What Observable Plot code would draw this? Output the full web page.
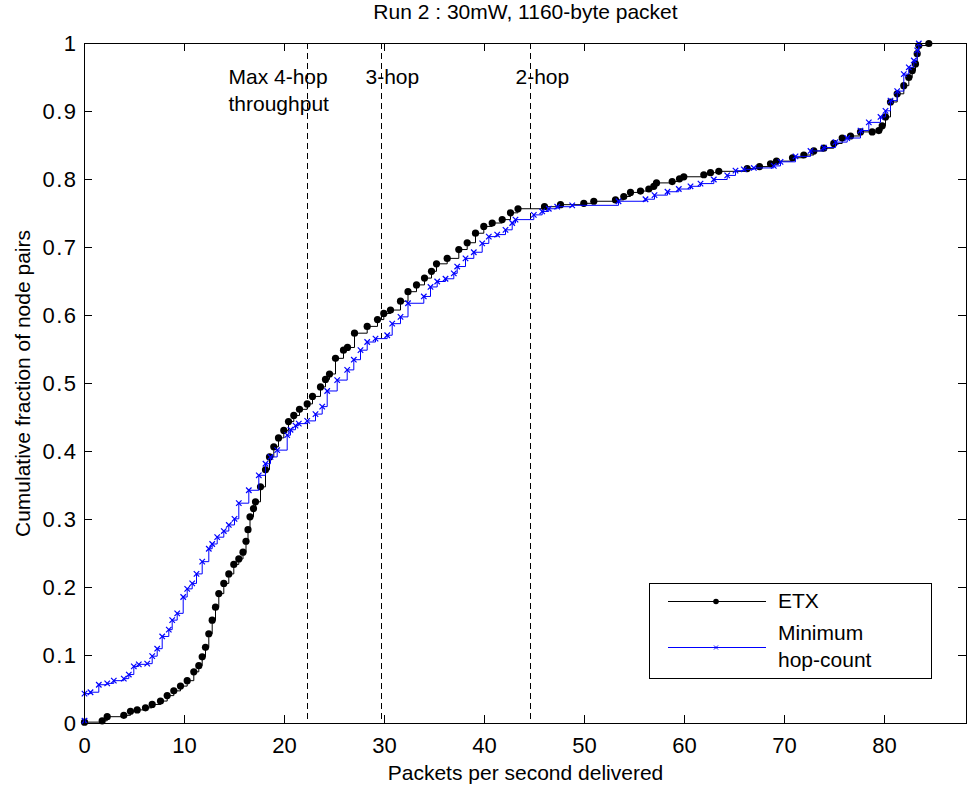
<!DOCTYPE html>
<html><head><meta charset="utf-8">
<script src="https://cdn.jsdelivr.net/npm/d3@7"></script>
<script src="https://cdn.jsdelivr.net/npm/@observablehq/plot@0.6"></script>
<style>body{margin:0;background:#fff} #chart{width:967px;height:785px}</style>
</head><body><div id="chart"></div>
<script>
const etxX = [0, 1.77, 2.27, 3.93, 4.6, 5.27, 6.1, 6.77, 7.6, 8.27, 8.93, 9.6, 10.27, 10.93, 11.43, 11.77, 12.1, 12.43, 12.77, 13.1, 13.43, 13.93, 14.43, 14.93, 15.43, 15.85, 16.15, 16.35, 16.55, 16.9, 17.1, 17.6, 18.1, 18.5, 18.93, 19.4, 19.93, 20.4, 20.93, 21.5, 22.27, 22.8, 23.6, 24.1, 24.5, 25.1, 25.9, 26.3, 27.0, 28.27, 29.3, 29.93, 30.6, 31.6, 32.35, 33.2, 34.0, 34.7, 35.2, 36.27, 37.43, 38.27, 39.1, 39.93, 40.77, 41.77, 42.6, 43.35, 46.0, 47.6, 49.93, 50.93, 53.1, 53.93, 54.6, 55.6, 56.43, 56.93, 57.2, 58.77, 59.5, 59.93, 61.93, 62.6, 63.43, 66.27, 67.5, 68.6, 69.2, 70.8, 71.93, 72.93, 73.93, 74.93, 75.77, 76.6, 77.6, 78.77, 79.43, 79.77, 80.1, 80.6, 81.27, 81.93, 82.43, 82.77, 83.1, 83.27, 83.43, 84.43];
const etxY = [0.002, 0.004, 0.01, 0.012, 0.018, 0.02, 0.023, 0.028, 0.033, 0.041, 0.048, 0.055, 0.063, 0.076, 0.085, 0.098, 0.112, 0.132, 0.152, 0.171, 0.191, 0.206, 0.22, 0.234, 0.242, 0.252, 0.268, 0.285, 0.304, 0.316, 0.326, 0.348, 0.373, 0.392, 0.407, 0.42, 0.431, 0.444, 0.453, 0.462, 0.47, 0.481, 0.495, 0.506, 0.514, 0.537, 0.549, 0.553, 0.574, 0.584, 0.594, 0.603, 0.608, 0.621, 0.635, 0.645, 0.655, 0.665, 0.676, 0.684, 0.697, 0.707, 0.721, 0.731, 0.736, 0.741, 0.751, 0.757, 0.76, 0.763, 0.765, 0.768, 0.77, 0.775, 0.781, 0.783, 0.786, 0.79, 0.795, 0.797, 0.801, 0.804, 0.807, 0.81, 0.812, 0.816, 0.819, 0.823, 0.827, 0.832, 0.836, 0.842, 0.846, 0.853, 0.861, 0.864, 0.87, 0.87, 0.872, 0.879, 0.892, 0.914, 0.926, 0.938, 0.95, 0.96, 0.97, 0.985, 0.997, 1.0];

const hopX = [0, 0, 0.6, 1.43, 2.27, 2.93, 3.93, 4.43, 4.93, 5.43, 6.27, 6.77, 7.27, 7.77, 8.43, 8.77, 9.27, 9.87, 10.27, 10.77, 11.2, 11.77, 12.43, 12.77, 13.27, 13.93, 14.43, 15.0, 15.43, 16.43, 17.43, 18.1, 18.6, 19.27, 20.27, 20.6, 21.1, 21.43, 22.27, 23.1, 23.77, 24.27, 25.27, 26.27, 26.93, 27.6, 28.27, 29.1, 30.27, 30.77, 31.6, 32.35, 33.93, 34.6, 35.27, 36.1, 36.93, 37.27, 38.1, 38.93, 39.77, 40.43, 41.27, 42.1, 42.77, 43.1, 44.93, 45.77, 46.43, 47.27, 48.77, 53.4, 56.1, 57.0, 58.3, 59.43, 60.6, 61.6, 62.93, 64.27, 65.1, 65.93, 66.93, 68.93, 69.6, 71.1, 72.6, 73.93, 75.1, 76.27, 77.6, 78.43, 79.6, 80.1, 80.6, 81.27, 81.93, 82.43, 82.93, 83.27, 83.43];
const hopY = [0.004, 0.044, 0.046, 0.057, 0.059, 0.063, 0.066, 0.072, 0.084, 0.087, 0.088, 0.099, 0.11, 0.128, 0.138, 0.152, 0.162, 0.186, 0.198, 0.206, 0.22, 0.238, 0.257, 0.264, 0.274, 0.283, 0.292, 0.301, 0.324, 0.343, 0.365, 0.382, 0.392, 0.402, 0.424, 0.432, 0.438, 0.441, 0.445, 0.455, 0.466, 0.489, 0.505, 0.52, 0.535, 0.549, 0.561, 0.566, 0.571, 0.588, 0.598, 0.618, 0.628, 0.642, 0.65, 0.654, 0.662, 0.672, 0.684, 0.693, 0.706, 0.716, 0.719, 0.726, 0.736, 0.741, 0.748, 0.753, 0.757, 0.76, 0.762, 0.768, 0.771, 0.777, 0.782, 0.786, 0.79, 0.794, 0.8, 0.806, 0.813, 0.815, 0.817, 0.82, 0.826, 0.834, 0.842, 0.847, 0.855, 0.861, 0.872, 0.884, 0.892, 0.901, 0.916, 0.93, 0.955, 0.965, 0.975, 0.99, 1.0];

const xTicks = [0, 10, 20, 30, 40, 50, 60, 70, 80];
const yTicks = [0, 0.1, 0.2, 0.3, 0.4, 0.5, 0.6, 0.7, 0.8, 0.9, 1];
const hopLimitX = [22.3, 29.7, 44.6];
const annotText = ["Max 4-hop", "throughput", "3-hop", "2-hop"];
const annotX = [14.4, 14.4, 28.1, 43.1];
const annotY = [0.95, 0.911, 0.95, 0.95];
const seriesNames = ["ETX", "Minimum", "hop-count"];
const titleText = "Run 2 : 30mW, 1160-byte packet";
const xLabel = "Packets per second delivered";
const yLabel = "Cumulative fraction of node pairs";

const etx = etxX.map((x, i) => ({x, y: etxY[i]}));
const hop = hopX.map((x, i) => ({x, y: hopY[i]}));

const FONT = "'Liberation Sans', Arial, sans-serif";
const FS = 21;
const TFS = 22;
const W = 967, H = 785, ML = 84, MR = 1, MT = 43, MB = 62;
const fw = W - ML - MR, fh = H - MT - MB;

const plot = Plot.plot({
  width: W, height: H,
  marginLeft: ML, marginRight: MR, marginTop: MT, marginBottom: MB,
  x: {domain: [0, 88.2]},
  y: {domain: [0, 1]},
  style: {fontFamily: FONT, fontSize: FS + "px", color: "#000", background: "#fff", overflow: "visible"},
  marks: [
    Plot.ruleX(hopLimitX, {x: d => d, stroke: "#000", strokeWidth: 1, strokeDasharray: "6,4"}),
    Plot.text(annotText, {x: annotX, y: annotY, text: d => d, textAnchor: "start", lineAnchor: "middle", fontSize: FS, fill: "#000"}),
    Plot.line(etx, {x: "x", y: "y", curve: "step-after", stroke: "#000", strokeWidth: 1}),
    Plot.dot(etx, {x: "x", y: "y", r: 3.6, fill: "#000", stroke: "none"}),
    Plot.line(hop, {x: "x", y: "y", curve: "step-after", stroke: "#0000ff", strokeWidth: 1}),
    Plot.dot(hop, {x: "x", y: "y", symbol: "times", r: 2.6, stroke: "#0000ff", strokeWidth: 1.2}),
    Plot.frame({stroke: "#000", strokeWidth: 1}),
    // inward ticks on all four sides
    Plot.tickX(xTicks, {x: d => d, insetTop: fh - 8, stroke: "#000"}),
    Plot.tickX(xTicks, {x: d => d, insetBottom: fh - 8, stroke: "#000"}),
    Plot.tickY(yTicks, {y: d => d, insetRight: fw - 8, stroke: "#000"}),
    Plot.tickY(yTicks, {y: d => d, insetLeft: fw - 8, stroke: "#000"}),
    Plot.axisX(xTicks, {anchor: "bottom", tickSize: 0, tickPadding: 14, label: null, fontSize: TFS, tickFormat: d => String(d)}),
    Plot.axisY(yTicks, {anchor: "left", tickSize: 0, tickPadding: 7, label: null, fontSize: TFS, tickFormat: d => String(+d.toFixed(1))}),
    Plot.text([titleText], {frameAnchor: "top", dy: -31, text: d => d, textAnchor: "middle", lineAnchor: "middle", fontSize: FS}),
    Plot.text([xLabel], {frameAnchor: "bottom", dy: 50, text: d => d, textAnchor: "middle", lineAnchor: "middle", fontSize: FS}),
    Plot.text([yLabel], {frameAnchor: "left", dx: -61, rotate: -90, text: d => d, textAnchor: "middle", lineAnchor: "middle", fontSize: FS})
  ]
});

// slightly wider spacing on y tick labels, as in the reference
d3.select(plot).selectAll("g[aria-label='y-axis tick label'] text").attr("letter-spacing", "1.5px");

// legend box inside the axes (lower right)
const svg = d3.select(plot);
const lg = svg.append("g").attr("font-family", FONT).attr("font-size", FS).attr("text-anchor", "start");
lg.append("rect").attr("x", 649.5).attr("y", 583.5).attr("width", 282).attr("height", 95)
  .attr("fill", "#fff").attr("stroke", "#000").attr("stroke-width", 1);
lg.append("line").attr("x1", 668).attr("x2", 766).attr("y1", 601.5).attr("y2", 601.5).attr("stroke", "#000");
lg.append("circle").attr("cx", 716).attr("cy", 601.5).attr("r", 2.8).attr("fill", "#000");
lg.append("text").attr("x", 778).attr("y", 601).attr("dy", "0.35em").attr("text-anchor", "start").text(seriesNames[0]);
lg.append("line").attr("x1", 668).attr("x2", 766).attr("y1", 647.5).attr("y2", 647.5).attr("stroke", "#0000ff");
lg.append("path").attr("d", "M714,645.5L718,649.5M718,645.5L714,649.5").attr("stroke", "#0000ff").attr("stroke-width", 1);
lg.append("text").attr("x", 778).attr("y", 633).attr("dy", "0.35em").attr("text-anchor", "start").text(seriesNames[1]);
lg.append("text").attr("x", 778).attr("y", 660).attr("dy", "0.35em").attr("text-anchor", "start").text(seriesNames[2]);

document.getElementById("chart").appendChild(plot);
</script>
</body></html>
